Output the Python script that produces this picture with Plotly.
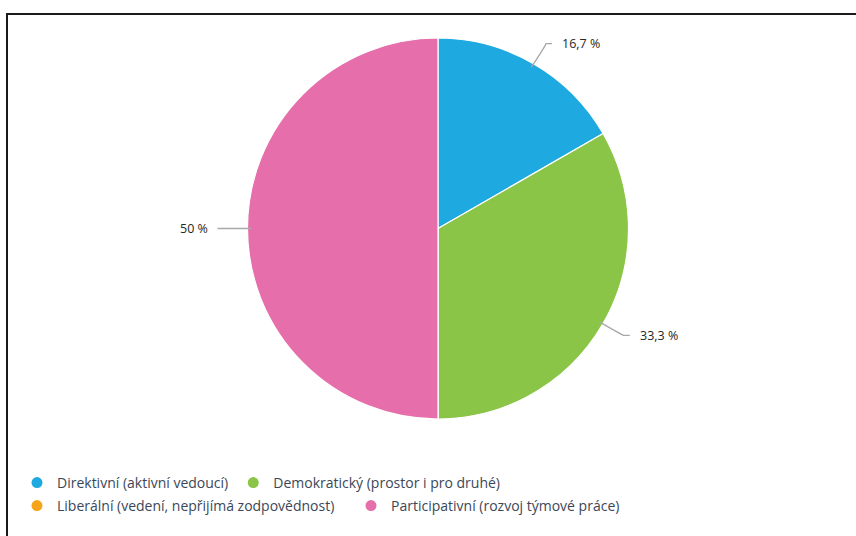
import math
import plotly.graph_objects as go

categories = [
    "Direktivní (aktivní vedoucí)",
    "Demokratický (prostor i pro druhé)",
    "Liberální (vedení, nepřijímá zodpovědnost)",
    "Participativní (rozvoj týmové práce)",
]
values = [16.7, 33.3, 0, 50]
colors = ["#1fa9e1", "#8bc548", "#f7a41d", "#e56eab"]

W, H = 856, 536
CX, CY, R = 438, 228.5, 190.5


def px(x):
    return x / W


def py(y):
    return 1 - y / H


fig = go.Figure()
fig.add_trace(go.Pie(
    labels=categories, values=values, sort=False, direction="clockwise",
    rotation=0, marker=dict(colors=colors, line=dict(color="white", width=1.2)),
    textinfo="none", hoverinfo="none", showlegend=False,
    domain=dict(x=[px(CX - R), px(CX + R)], y=[py(CY + R), py(CY - R)]),
))

# legend entries (circles)
for i, (c, col) in enumerate(zip(categories, colors)):
    fig.add_trace(go.Scatter(
        x=[None], y=[None], mode="markers", name=c,
        marker=dict(color=col, size=11, symbol="circle"),
        legend="legend" if i < 2 else "legend2", showlegend=True,
    ))

# labels with leader lines
total = sum(values)
cum = 0
shapes = []
annotations = []
for v in values:
    start = cum
    cum += v
    if v <= 0:
        continue
    mid = (start + v / 2) / total * 2 * math.pi
    dx, dy = math.sin(mid), -math.cos(mid)
    x0, y0 = CX + (R - 4) * dx, CY + (R - 4) * dy
    bx, by = CX + (R + 23) * dx, CY + (R + 23) * dy
    s = 1 if dx >= 0 else -1
    ex = bx + 7 * s
    path = f"M {px(x0)},{py(y0)} Q {px(bx)},{py(by + 3 if dy < 0 else by)} {px(bx + s*1)},{py(by)} L {px(ex)},{py(by)}"
    shapes.append(dict(type="path", xref="paper", yref="paper", path=path,
                       line=dict(color="#a8a8a8", width=1.3)))
    txt = (f"{v:.1f}".rstrip("0").rstrip(".")).replace(".", ",") + " %"
    annotations.append(dict(
        x=px(ex + 8 * s), y=py(by), xref="paper", yref="paper", text=txt,
        showarrow=False, xanchor="left" if s > 0 else "right", yanchor="middle",
        font=dict(family="Open Sans", size=12.5, color="#262626"),
    ))

# container border
shapes.append(dict(type="rect", xref="paper", yref="paper",
                   x0=px(7), x1=px(W + 20), y0=py(14), y1=py(H + 20),
                   line=dict(color="#1a1a1a", width=2), fillcolor="rgba(0,0,0,0)"))

legend_font = dict(family="Open Sans", size=14, color="#3b4758")
fig.update_layout(
    width=W, height=H, margin=dict(l=0, r=0, t=0, b=0),
    paper_bgcolor="white", plot_bgcolor="white",
    xaxis=dict(visible=False), yaxis=dict(visible=False),
    shapes=shapes, annotations=annotations,
    legend=dict(orientation="h", x=px(17), y=py(483), xanchor="left", yanchor="middle",
                font=legend_font, itemclick=False, bgcolor="rgba(0,0,0,0)"),
    legend2=dict(orientation="h", x=px(17), y=py(506), xanchor="left", yanchor="middle",
                 font=legend_font, entrywidth=289, itemclick=False, bgcolor="rgba(0,0,0,0)"),
)

fig.write_html("out.html")
